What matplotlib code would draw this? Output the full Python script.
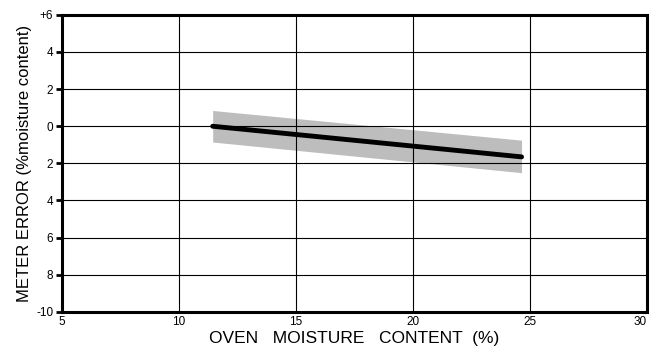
import numpy as np
import matplotlib
matplotlib.use('Agg')
from matplotlib import pyplot as plt

# data
moisture = [11.45, 24.65]
error = [0.0, -1.65]
band_upper = [0.85, -0.75]
band_lower = [-0.85, -2.5]

x_ticks = [5, 10, 15, 20, 25, 30]
y_ticks = [6, 4, 2, 0, -2, -4, -6, -8, -10]
y_labels = ['+6', '4', '2', '0', '2', '4', '6', '8', '-10']

plt.rcParams['font.family'] = ['Liberation Sans', 'DejaVu Sans']

fig = plt.figure(figsize=(6.5, 3.54), dpi=100)
ax = fig.add_axes([0.095, 0.119, 0.9, 0.839])

ax.fill_between(moisture, band_lower, band_upper, color='#bdbdbd', lw=0, zorder=1)
ax.plot(moisture, error, color='black', lw=3.5, solid_capstyle='round', zorder=3)

ax.set_xlim(5, 30)
ax.set_ylim(-10, 6)
ax.set_xticks(x_ticks)
ax.set_yticks(y_ticks)
ax.set_yticklabels(y_labels)
ax.grid(True, color='black', lw=0.8, zorder=2)
ax.set_axisbelow(False)

for s in ax.spines.values():
    s.set_linewidth(2.2)
ax.tick_params(direction='out', length=4, width=2, labelsize=8.5, pad=2)
ax.tick_params(axis='x', length=0, pad=3)
# last x label sits against the right edge
ax.get_xticklabels()[-1].set_horizontalalignment('right')

ax.set_xlabel('OVEN   MOISTURE   CONTENT  (%)', fontsize=12.5, labelpad=2)
ax.set_ylabel('METER ERROR (%moisture content)', fontsize=12, labelpad=3)

plt.savefig('out.png', dpi=100)
